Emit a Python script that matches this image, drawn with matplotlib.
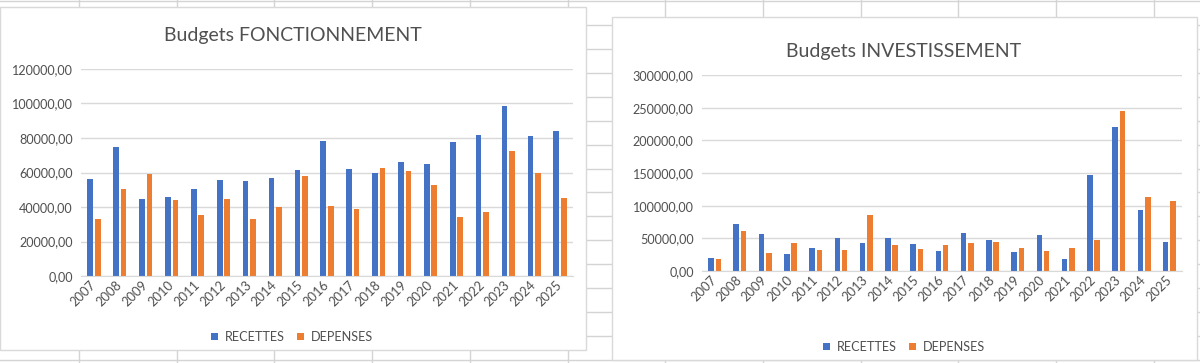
import numpy as np
import matplotlib
matplotlib.use('Agg')
import matplotlib.pyplot as plt
from matplotlib.patches import Rectangle
from matplotlib.ticker import FuncFormatter

# values
years = ['2007', '2008', '2009', '2010', '2011', '2012', '2013', '2014', '2015', '2016',
         '2017', '2018', '2019', '2020', '2021', '2022', '2023', '2024', '2025']

fonct_recettes = [56500, 74700, 44900, 45700, 50300, 55500, 54800, 56900, 61700, 78400,
                  62300, 60000, 66200, 64800, 77400, 81900, 98300, 80900, 83800]
fonct_depenses = [33300, 50300, 59400, 44100, 35600, 44700, 33100, 39900, 57900, 40600,
                  38900, 62700, 60600, 53000, 34100, 37300, 72200, 59600, 45500]

invest_recettes = [19900, 72000, 57200, 26600, 34700, 50100, 42400, 50600, 40900, 30700,
                   58800, 47500, 29100, 54700, 18400, 147200, 219700, 93500, 45000]
invest_depenses = [18400, 61300, 27600, 42900, 32700, 31700, 85900, 39300, 33200, 39300,
                   42400, 44500, 35300, 30100, 34700, 48000, 244800, 113400, 106800]

BLUE = '#4472C4'
ORANGE = '#ED7D31'
TEXT = '#505050'
GRID = '#d9d9d9'
SHEET = '#d4d4d4'

plt.rcParams['font.family'] = ['Lato', 'DejaVu Sans']

W, H = 1200, 363
fig = plt.figure(figsize=(12, 3.63), dpi=100)

# spreadsheet cells behind the charts
bg = fig.add_axes([0, 0, 1, 1])
bg.set_xlim(0, W)
bg.set_ylim(H, 0)
bg.axis('off')
for xv in [79, 177, 274, 372, 470, 568, 665, 763, 861, 958, 1056, 1154]:
    bg.axvline(xv, color=SHEET, lw=1, zorder=1)
for yv in np.arange(1, H, 23.93):
    bg.axhline(yv, color=SHEET, lw=1, zorder=1)


def fr_format(v, pos):
    return '{:.2f}'.format(v).replace('.', ',')


def draw_chart(box, area, title, title_xy, legend_xy, recettes, depenses, ymax, step):
    # white chart box on top of the sheet grid
    bg.add_patch(Rectangle((box[0], box[1]), box[2], box[3],
                           facecolor='white', edgecolor=GRID, lw=1, zorder=5))

    x0, y0, x1, y1 = area
    ax = fig.add_axes([x0 / W, 1 - y1 / H, (x1 - x0) / W, (y1 - y0) / H])
    x = np.arange(len(years))
    b1 = ax.bar(x - 0.145, recettes, 0.22, color=BLUE, label='RECETTES')
    b2 = ax.bar(x + 0.145, depenses, 0.22, color=ORANGE, label='DEPENSES')

    ax.set_xlim(-0.5, len(years) - 0.5)
    ax.set_ylim(0, ymax)
    ax.set_yticks(np.arange(0, ymax + 1, step))
    ax.yaxis.set_major_formatter(FuncFormatter(fr_format))
    ax.yaxis.grid(True, color=GRID, lw=1)
    ax.set_axisbelow(True)
    for s in ['top', 'right', 'left']:
        ax.spines[s].set_visible(False)
    ax.spines['bottom'].set_color(GRID)
    ax.set_facecolor('none')

    ax.set_xticks(x)
    ax.set_xticklabels(years, rotation=45, ha='right', va='center', rotation_mode='anchor')
    ax.tick_params(axis='y', length=0, labelsize=9.1, colors=TEXT, pad=6)
    ax.tick_params(axis='x', length=0, labelsize=9.3, colors=TEXT, pad=5)

    fig.text(title_xy[0] / W, 1 - title_xy[1] / H, title, ha='center', va='center',
             fontsize=14, color=TEXT)

    fig.legend([b1, b2], ['RECETTES', 'DEPENSES'], loc='center',
               bbox_to_anchor=(legend_xy[0] / W, 1 - legend_xy[1] / H), ncol=2,
               frameon=False, fontsize=9.1, labelcolor=TEXT, handlelength=0.55,
               handleheight=0.55, handletextpad=0.5, columnspacing=1.0)


draw_chart((0, 7, 586, 343), (81, 69, 573, 276), 'Budgets FONCTIONNEMENT', (293, 36), (292, 337),
           fonct_recettes, fonct_depenses, 120000, 20000)
draw_chart((612, 17, 585, 343), (702, 75, 1182, 271), 'Budgets INVESTISSEMENT', (904, 52), (904, 347),
           invest_recettes, invest_depenses, 300000, 50000)

fig.savefig('out.png', dpi=100)
